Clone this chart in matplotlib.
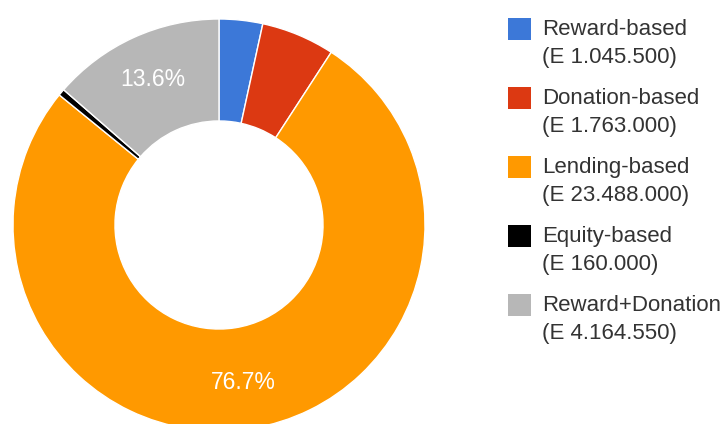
import matplotlib
matplotlib.use("Agg")
import matplotlib.pyplot as plt
from matplotlib.patches import Rectangle

categories = ["Reward-based", "Donation-based", "Lending-based", "Equity-based", "Reward+Donation"]
values = [1045500, 1763000, 23488000, 160000, 4164550]
colors = ["#3c78d8", "#dc3912", "#ff9900", "#000000", "#b7b7b7"]

plt.rcParams['font.family'] = ['Liberation Sans', 'DejaVu Sans']

W, H = 727, 424
fig = plt.figure(figsize=(W / 100, H / 100), dpi=100)
ax = fig.add_axes([0, 0, 1, 1])

cx, cy, R = 219, H - 225, 206


def pct(p):
    return f"{p:.1f}%" if p >= 10 else ""


wedges, texts, autotexts = ax.pie(
    values, colors=colors, startangle=90, counterclock=False,
    center=(cx, cy), radius=R, autopct=pct, pctdistance=0.775,
    wedgeprops=dict(width=R * 0.495, edgecolor="white", linewidth=1),
    textprops=dict(color="white", fontsize=16.5),
)
ax.set_xlim(0, W)
ax.set_ylim(0, H)
ax.set_aspect("equal")
ax.axis("off")

# legend
sq_x, sq_w, sq_h = 508, 23, 22
step = 69
for i, (lab, val, col) in enumerate(zip(categories, values, colors)):
    top = 18 + i * step
    ax.add_patch(Rectangle((sq_x, H - top - sq_h), sq_w, sq_h, facecolor=col,
                           edgecolor="none"))
    b1 = 35 + i * step
    b2 = b1 + 28.3
    ax.text(542, H - b1, lab, fontsize=16, color="#333333", va="baseline", ha="left")
    ax.text(542, H - b2, "(E " + f"{val:,}".replace(",", ".") + ")", fontsize=16,
            color="#333333", va="baseline", ha="left")

fig.savefig("out.png", dpi=100)
